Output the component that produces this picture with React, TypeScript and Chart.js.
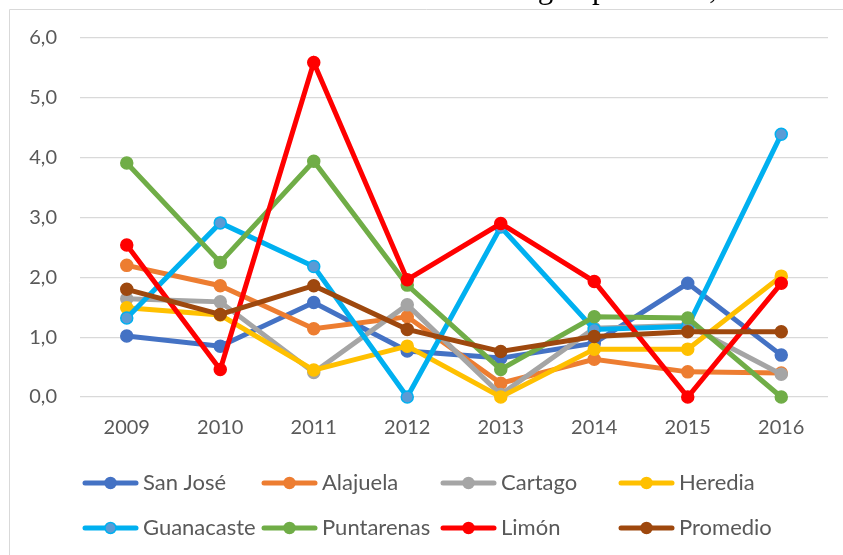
import React, { useEffect, useRef } from "react";
import { Chart, registerables } from "chart.js";

Chart.register(...registerables);

const years = ["2009", "2010", "2011", "2012", "2013", "2014", "2015", "2016"];
const sanJose = [1.02, 0.85, 1.58, 0.77, 0.65, 0.9, 1.9, 0.7];
const alajuela = [2.2, 1.86, 1.14, 1.34, 0.23, 0.63, 0.42, 0.4];
const cartago = [1.64, 1.59, 0.41, 1.54, 0.04, 1.15, 1.2, 0.38];
const heredia = [1.49, 1.37, 0.45, 0.85, 0.0, 0.8, 0.8, 2.02];
const guanacaste = [1.32, 2.91, 2.18, 0.0, 2.84, 1.13, 1.18, 4.39];
const puntarenas = [3.91, 2.25, 3.94, 1.87, 0.46, 1.34, 1.32, 0.0];
const limon = [2.54, 0.46, 5.59, 1.96, 2.9, 1.93, 0.0, 1.9];
const promedio = [1.8, 1.38, 1.86, 1.13, 0.76, 1.01, 1.09, 1.09];

const seriesNames = ["San José", "Alajuela", "Cartago", "Heredia", "Guanacaste", "Puntarenas", "Limón", "Promedio"];
const seriesValues = [sanJose, alajuela, cartago, heredia, guanacaste, puntarenas, limon, promedio];
const lineColors = ["#4472C4", "#ED7D31", "#A5A5A5", "#FFC000", "#00B0F0", "#70AD47", "#FF0000", "#9E480E"];
const markerFills = ["#4472C4", "#ED7D31", "#A5A5A5", "#FFC000", "#5B9BD5", "#70AD47", "#FF0000", "#9E480E"];
const yTicks = [0, 1, 2, 3, 4, 5, 6];
const titleText = "según provincia,";

const FONT = "Lato, 'Open Sans', sans-serif";
const TEXT_COLOR = "#595959";

const framePlugin = {
  id: "frame",
  beforeDraw(chart: any) {
    const ctx = chart.ctx;
    ctx.save();
    ctx.strokeStyle = "#D9D9D9";
    ctx.lineWidth = 1;
    ctx.beginPath();
    ctx.moveTo(9.5, chart.height + 2);
    ctx.lineTo(9.5, 9.5);
    ctx.lineTo(chart.width + 2, 9.5);
    ctx.stroke();
    ctx.fillStyle = "#000";
    ctx.font = "31px 'Liberation Serif', 'Times New Roman', serif";
    ctx.textBaseline = "alphabetic";
    ctx.textAlign = "left";
    ctx.fillText(titleText, 512, -2);
    ctx.restore();
  },
};

const gridLegendPlugin = {
  id: "gridLegend",
  afterDraw(chart: any) {
    const ctx = chart.ctx;
    const colX = [83, 262, 441, 619];
    const rowY = [483, 528];
    ctx.save();
    chart.data.datasets.forEach((ds: any, i: number) => {
      const x = colX[i % 4];
      const y = rowY[Math.floor(i / 4)];
      ctx.strokeStyle = ds.borderColor;
      ctx.lineWidth = 5;
      ctx.lineCap = "round";
      ctx.beginPath();
      ctx.moveTo(x + 2, y);
      ctx.lineTo(x + 53, y);
      ctx.stroke();
      ctx.beginPath();
      ctx.arc(x + 27.5, y, 5.5, 0, Math.PI * 2);
      ctx.fillStyle = ds.pointBackgroundColor;
      ctx.fill();
      ctx.lineWidth = 1.5;
      ctx.strokeStyle = ds.pointBorderColor;
      ctx.stroke();
      ctx.fillStyle = TEXT_COLOR;
      ctx.font = `22px ${FONT}`;
      ctx.textBaseline = "middle";
      ctx.textAlign = "left";
      ctx.fillText(ds.label, x + 60, y);
    });
    ctx.restore();
  },
};

export default function App() {
  const ref = useRef<HTMLCanvasElement | null>(null);
  useEffect(() => {
    if (!ref.current) return;
    const chart = new Chart(ref.current, {
      type: "line",
      data: {
        labels: years,
        datasets: seriesNames.map((name, i) => ({
          label: name,
          data: seriesValues[i],
          borderColor: lineColors[i],
          backgroundColor: markerFills[i],
          pointBackgroundColor: markerFills[i],
          pointBorderColor: lineColors[i],
          borderWidth: 5,
          pointRadius: 6,
          pointBorderWidth: 1.5,
          tension: 0,
          fill: false,
          clip: false as any,
          order: seriesNames.length - 1 - i,
        })),
      },
      options: {
        responsive: false,
        animation: false,
        layout: { padding: { top: 38, right: 15, bottom: 108, left: 0 } },
        plugins: {
          legend: { display: false },
          tooltip: { enabled: false },
          title: { display: false },
        },
        scales: {
          x: {
            type: "category",
            offset: true,
            grid: { display: false, drawTicks: false },
            border: { display: false },
            ticks: {
              color: TEXT_COLOR,
              font: { family: FONT, size: 20 },
              padding: 19,
              maxRotation: 0,
            },
            afterFit(scale: any) {
              scale.height = 50;
            },
          },
          y: {
            min: 0,
            max: 6,
            afterBuildTicks(scale: any) {
              scale.ticks = yTicks.map((v) => ({ value: v }));
            },
            grid: { color: "#D9D9D9", lineWidth: 1.2, drawTicks: false },
            border: { display: false },
            ticks: {
              color: TEXT_COLOR,
              font: { family: FONT, size: 20 },
              padding: 23,
              callback: (v: any) => Number(v).toFixed(1).replace(".", ","),
            },
            afterFit(scale: any) {
              scale.width = 80;
            },
          },
        },
      },
      plugins: [framePlugin, gridLegendPlugin],
    });
    return () => chart.destroy();
  }, []);
  return (
    <canvas
      ref={ref}
      width={843}
      height={555}
      style={{ position: "absolute", left: 0, top: 0, display: "block" }}
    />
  );
}
